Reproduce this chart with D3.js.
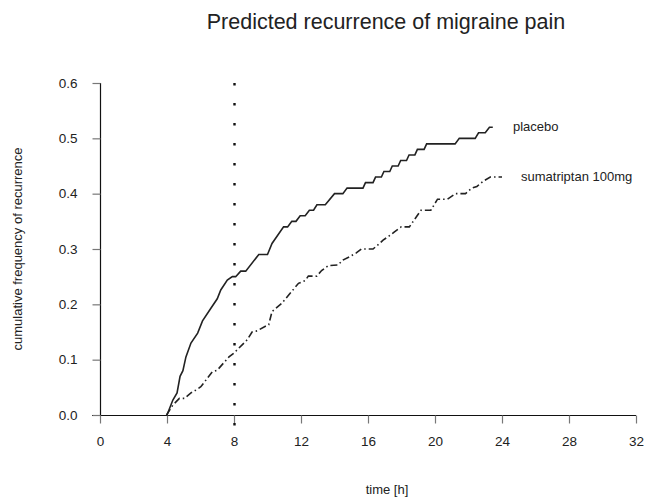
<!DOCTYPE html>
<html><head><meta charset="utf-8">
<script src="https://cdn.jsdelivr.net/npm/d3@7/dist/d3.min.js"></script>
<style>body{margin:0;background:#fff}svg{display:block}text{font-family:"Liberation Sans",Arial,sans-serif;fill:#222}</style>
</head><body><svg id="c" width="646" height="499"></svg>
<script>
const title = "Predicted recurrence of migraine pain";
const xLabel = "time [h]";
const yLabel = "cumulative frequency of recurrence";
const xTicks = [0,4,8,12,16,20,24,28,32];
const yTicks = [0.0,0.1,0.2,0.3,0.4,0.5,0.6];
const refTime = 8;
const seriesNames = ["placebo","sumatriptan 100mg"];
const placeboT = [4.0,4.35,4.6,4.78,4.95,5.13,5.43,5.83,6.12,6.62,7.0,7.21,7.6,7.9,8.1,8.4,8.7,9.48,10.0,10.27,10.96,11.2,11.45,11.7,11.95,12.25,12.5,12.75,12.95,13.45,14.0,14.5,14.75,15.7,15.85,16.3,16.45,16.8,16.95,17.3,17.45,17.8,17.95,18.3,18.45,18.8,18.95,19.35,19.5,19.8,19.95,21.2,21.45,22.4,22.6,23.0,23.25,23.45];
const placeboV = [0,0.027,0.04,0.07,0.08,0.105,0.13,0.148,0.17,0.193,0.21,0.226,0.244,0.25,0.25,0.26,0.26,0.29,0.29,0.31,0.34,0.34,0.35,0.35,0.36,0.36,0.37,0.37,0.38,0.38,0.40,0.40,0.41,0.41,0.42,0.42,0.43,0.43,0.44,0.44,0.45,0.45,0.46,0.46,0.47,0.47,0.48,0.48,0.49,0.49,0.49,0.49,0.50,0.50,0.51,0.51,0.52,0.52];
const sumaT = [3.97,4.35,4.74,5.04,5.43,5.72,6.02,6.7,7.0,7.7,8.0,8.79,9.08,9.38,9.85,10.07,10.27,10.86,11.85,12.25,12.44,12.94,13.23,13.63,14.2,14.5,14.9,15.3,15.6,16.3,16.69,16.9,17.28,17.58,17.98,18.47,19.16,19.75,20.15,20.74,21.23,21.82,22.2,22.5,22.9,23.3,24.0];
const sumaV = [0,0.018,0.03,0.03,0.04,0.045,0.051,0.078,0.081,0.105,0.112,0.136,0.15,0.152,0.16,0.163,0.187,0.202,0.238,0.243,0.251,0.251,0.261,0.27,0.271,0.28,0.286,0.293,0.30,0.30,0.31,0.316,0.324,0.331,0.34,0.34,0.37,0.37,0.39,0.39,0.40,0.40,0.41,0.413,0.423,0.43,0.43];

const svg = d3.select("#c");
const x = d3.scaleLinear().domain([0,32]).range([100,636]);
const y = d3.scaleLinear().domain([0,0.6]).range([415,83]);

// axes
const gx = svg.append("g").attr("transform","translate(0,415.5)")
  .call(d3.axisBottom(x).tickValues(xTicks).tickSize(8).tickPadding(10).tickFormat(d3.format("d")));
const gy = svg.append("g").attr("transform","translate(100.5,0)")
  .call(d3.axisLeft(y).tickValues(yTicks).tickSize(8).tickPadding(15).tickFormat(d3.format(".1f")));
[gx,gy].forEach(g=>{
  g.select(".domain").attr("stroke","#111").attr("stroke-width",1.2);
  g.selectAll(".tick line").attr("stroke","#777").attr("stroke-width",1.2);
  g.selectAll(".tick text").attr("font-size",13.5).attr("fill","#333").style("font-family","'Liberation Sans',Arial,sans-serif");
});
gx.select(".domain").attr("d",`M${x(0)-8},0H${x(32)}`);
gy.select(".domain").attr("d",`M0,${y(0)}V${y(0.6)}`);
gx.selectAll(".tick text").attr("dy","0.95em");

// reference vertical dotted line
svg.append("line").attr("x1",x(refTime)+0.5).attr("x2",x(refTime)+0.5)
  .attr("y1",y(0.6)).attr("y2",432).attr("stroke","#111").attr("stroke-width",2.4)
  .attr("stroke-dasharray","2.5,17.5");

const line = d3.line().x(d=>x(d[0])).y(d=>y(d[1]));
const pl = placeboT.map((t,i)=>[t,placeboV[i]]);
const su = sumaT.map((t,i)=>[t,sumaV[i]]);
svg.append("path").datum(pl).attr("d",line).attr("fill","none").attr("stroke","#222").attr("stroke-width",1.6);
svg.append("path").datum(su).attr("d",line).attr("fill","none").attr("stroke","#222").attr("stroke-width",1.6)
  .attr("stroke-dasharray","7,3,1.5,3");

svg.append("text").attr("x",513).attr("y",y(placeboV[placeboV.length-1])+4)
  .attr("font-size",13).text(seriesNames[0]);
svg.append("text").attr("x",521).attr("y",y(sumaV[sumaV.length-1])+4)
  .attr("font-size",13).text(seriesNames[1]);

svg.append("text").attr("x",386).attr("y",29).attr("text-anchor","middle").attr("font-size",21.5).text(title);
svg.append("text").attr("x",387).attr("y",494).attr("text-anchor","middle").attr("font-size",13).text(xLabel);
svg.append("text").attr("transform","translate(22,249) rotate(-90)").attr("text-anchor","middle").attr("font-size",13).text(yLabel);
</script></body></html>
